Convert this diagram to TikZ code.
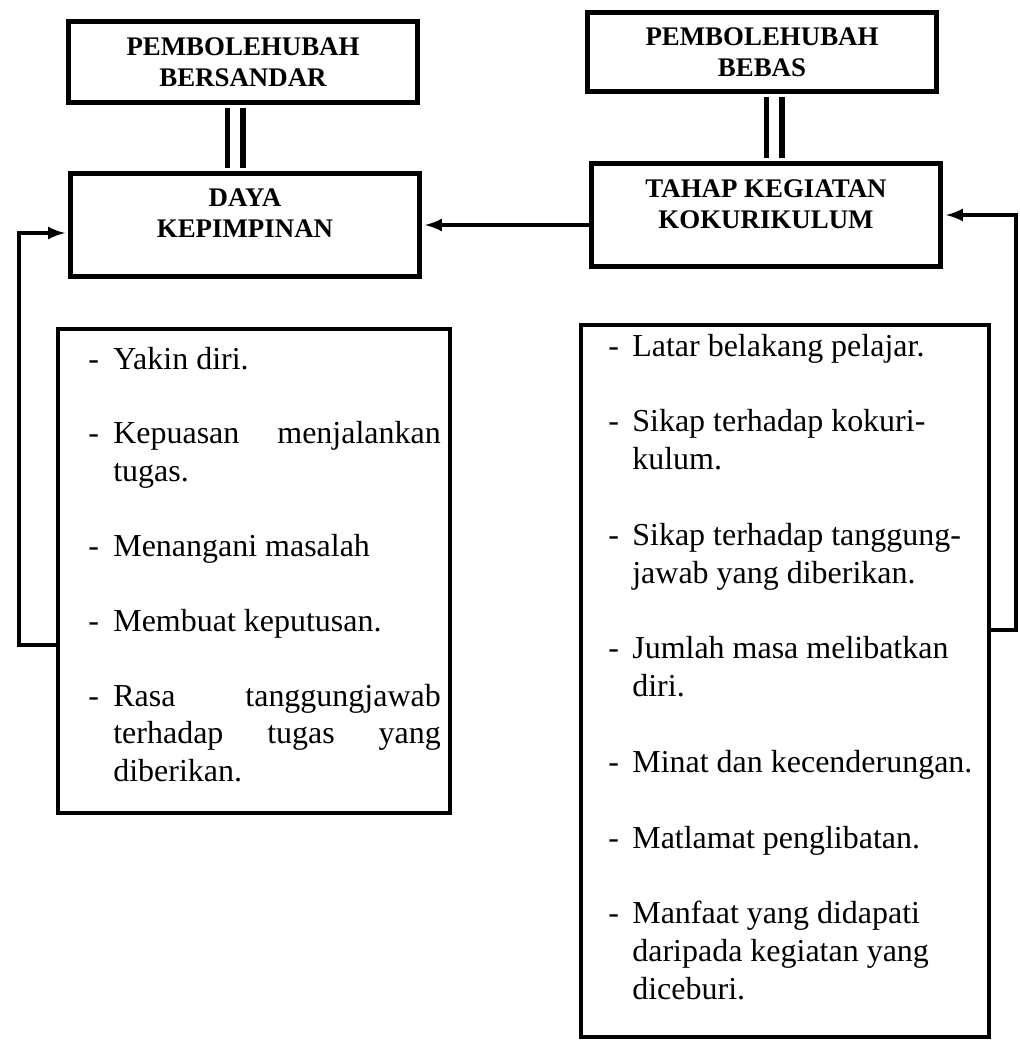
\documentclass[tikz,border=0pt]{standalone}
\usepackage{fontspec}
\setmainfont{Liberation Serif}
\usepackage{tikz}
\usetikzlibrary{arrows}

\begin{document}
\begin{tikzpicture}[x=0.02cm,y=-0.02cm,
	hdrbox/.style={draw,line width=0.1cm,minimum width=7cm,inner sep=0pt,align=center,font=\fontsize{15.3pt}{17.4pt}\selectfont\bfseries},
	hdrtext/.style={inner sep=0pt,align=center,font=\fontsize{15.3pt}{17.4pt}\selectfont\bfseries},
	listbox/.style={draw,line width=0.09cm,inner sep=0pt},
	listtext/.style={inner sep=0pt,anchor=base west,font=\fontsize{18.2pt}{21.34pt}\selectfont},
	link/.style={line width=0.11cm,double,double distance=0.2cm,shorten <=0.05cm,shorten >=0.05cm},
	flow/.style={-latex,line width=0.08cm,shorten >=0.05cm}]
	\useasboundingbox (0,0) rectangle (1019,1040);
	% kotak pembolehubah
	\node[hdrbox,minimum height=1.64cm] (bersandar) at (243,62) {PEMBOLEHUBAH\\BERSANDAR};
	\node[hdrbox,minimum height=2.08cm] (daya) at (245,225) {};
	\node[hdrtext] (dayatext) at (245,213) {DAYA\\KEPIMPINAN};
	\node[hdrbox,minimum height=1.6cm] (bebas) at (762,52) {PEMBOLEHUBAH\\BEBAS};
	\node[hdrbox,minimum height=2.08cm] (tahap) at (766,215) {};
	\node[hdrtext] (tahaptext) at (766,204) {TAHAP KEGIATAN\\KOKURIKULUM};
	\coordinate (linkkiri) at (235,0);
	\coordinate (linkkanan) at (774,0);
	\draw[link] (bersandar.south -| linkkiri) -- (daya.north -| linkkiri);
	\draw[link] (bebas.south -| linkkanan) -- (tahap.north -| linkkanan);
	% senarai
	\node[listbox,minimum width=7.84cm,minimum height=9.68cm] (ciribox) at (254,571) {};
	\node[listtext] (ciritext) at (88,369) {%
		\begin{tabular}[t]{@{}p{0.5cm}@{}p{6.55cm}@{}}
			- & Yakin diri.\\[21.34pt]
			- & \makebox[\linewidth][s]{Kepuasan menjalankan}\\
			  & tugas.\\[21.34pt]
			- & Menangani masalah\\[21.34pt]
			- & Membuat keputusan.\\[21.34pt]
			- & \makebox[\linewidth][s]{Rasa tanggungjawab}\\
			  & \makebox[\linewidth][s]{terhadap tugas yang}\\
			  & diberikan.
		\end{tabular}};
	\node[listbox,minimum width=8.16cm,minimum height=14.24cm] (faktorbox) at (785,681) {};
	\node[listtext,font=\fontsize{18.2pt}{21.55pt}\selectfont] (faktortext) at (608,356) {%
		\begin{tabular}[t]{@{}p{0.48cm}@{}l@{}}
			- & Latar belakang pelajar.\\[21.55pt]
			- & Sikap terhadap kokuri-\\
			  & kulum.\\[21.55pt]
			- & Sikap terhadap tanggung-\\
			  & jawab yang diberikan.\\[21.55pt]
			- & Jumlah masa melibatkan\\
			  & diri.\\[21.55pt]
			- & Minat dan kecenderungan.\\[21.55pt]
			- & Matlamat penglibatan.\\[21.55pt]
			- & Manfaat yang didapati\\
			  & daripada kegiatan yang\\
			  & diceburi.
		\end{tabular}};
	% anak panah
	\coordinate (kiri) at (19,645);
	\coordinate (kanan) at (1016,630);
	\draw[flow] (daya.east -| tahap.west) -- (daya.east);
	\draw[flow] (ciribox.west |- kiri) -- (kiri) |- ([yshift=-0.16cm]daya.west);
	\draw[flow] (faktorbox.east |- kanan) -- (kanan) |- (tahap.east);
\end{tikzpicture}
\end{document}
